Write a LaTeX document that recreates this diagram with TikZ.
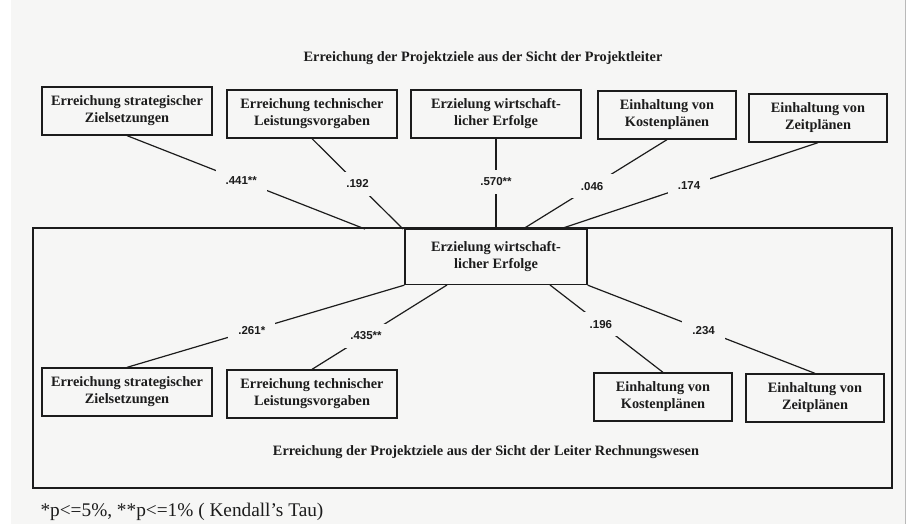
\documentclass[tikz,border=0pt]{standalone}
\usepackage{fontspec}
\setmainfont{Liberation Serif}
\newfontfamily\wertfont{Liberation Sans}
\definecolor{paper}{RGB}{246,246,245}
\definecolor{ink}{RGB}{28,28,28}

\begin{document}
\begin{tikzpicture}[x=1pt, y=-1pt, ink,
        ziel/.style={draw, line width=1.3pt, fill=paper, align=center, inner sep=1pt,
            minimum height=48pt, font=\bfseries\fontsize{14.3}{17}\selectfont},
        breit/.style={ziel, minimum width=170pt},
        schmal/.style={ziel, minimum width=138pt},
        wert/.style={fill=paper, inner xsep=10pt, inner ysep=8pt,
            font=\wertfont\bfseries\fontsize{11.5}{12}\selectfont},
        verbindung/.style={line width=1.2pt}
    ]
            \useasboundingbox (0, 0) rectangle (912, 524);
            \fill[paper] (11, 0) rectangle (905, 524);
            \draw[gray!55, line width=1pt] (905, 0) -- (905, 524);

            % Sicht der Projektleiter
            \node[font=\bfseries\fontsize{14.3}{17}\selectfont] (titelOben) at (483, 58)
                {Erreichung der Projektziele aus der Sicht der Projektleiter};
            \node[breit] (t1) at (127, 111) {Erreichung strategischer\\Zielsetzungen};
            \node[breit] (t2) at (312, 114) {Erreichung technischer\\Leistungsvorgaben};
            \node[breit] (t3) at (496, 114) {Erzielung wirtschaft-\\licher Erfolge};
            \node[schmal] (t4) at (667, 115) {Einhaltung von\\Kostenplänen};
            \node[schmal] (t5) at (818, 118) {Einhaltung von\\Zeitplänen};

            % Sicht der Leiter Rechnungswesen
            \draw[line width=1.3pt] (33, 228) rectangle (892, 488);
            \node[ziel, minimum width=182pt, minimum height=55pt] (mitte) at (496, 257)
                {Erzielung wirtschaft-\\licher Erfolge};
            \node[breit] (b1) at (127, 392) {Erreichung strategischer\\Zielsetzungen};
            \node[breit] (b2) at (312, 394) {Erreichung technischer\\Leistungsvorgaben};
            \node[schmal] (b3) at (663, 397) {Einhaltung von\\Kostenplänen};
            \node[schmal] (b4) at (815, 398) {Einhaltung von\\Zeitplänen};
            \node[font=\bfseries\fontsize{14.3}{17}\selectfont] (titelUnten) at (486, 452)
                {Erreichung der Projektziele aus der Sicht der Leiter Rechnungswesen};

            \coordinate (e1) at (365, 229);
            \coordinate (e2) at (403, 229);
            \coordinate (e4) at (523, 229);
            \coordinate (e5) at (560, 229);
            \coordinate (s2) at (447, 285);
            \coordinate (s3) at (550, 285);

            \begin{scope}[verbindung]
                \draw (t1.south) -- node[wert, pos=0.48] {.441**} (e1);
                \draw (t2.south) -- node[wert] {.192} (e2);
                \draw (t3.south) -- node[wert, pos=0.48] {.570**} (mitte.north);
                \draw (t4.south) -- node[wert, pos=0.52] {.046} (e4);
                \draw (t5.south) -- node[wert] {.174} (e5);
                \draw (mitte.south west) -- node[wert, pos=0.55] {.261*} (b1.north);
                \draw (s2) -- node[wert, pos=0.6] {.435**} (b2.north);
                \draw (s3) -- node[wert, pos=0.45] {.196} (b3.north);
                \draw (mitte.south east) -- node[wert, pos=0.51] {.234} (b4.north);
            \end{scope}

            \node[anchor=west, font=\fontsize{19.3}{20}\selectfont] (fussnote) at (37, 512)
                {*p<=5\%, **p<=1\% ( Kendall's Tau)};
        \end{tikzpicture}
\end{document}
